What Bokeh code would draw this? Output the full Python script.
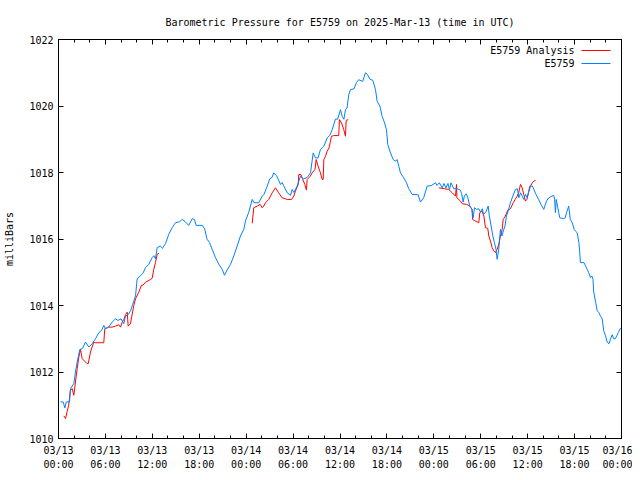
import math
from bokeh.plotting import figure
from bokeh.models import (Range1d, FixedTicker, LinearAxis, Label, BoxAnnotation)
from bokeh.embed import file_html
from bokeh.resources import INLINE

FONT = "DejaVu Sans Mono"

TITLE = "Barometric Pressure for E5759 on 2025-Mar-13 (time in UTC)"
Y_LABEL = "milliBars"
SERIES_NAMES = ["E5759 Analysis", "E5759"]
SERIES_COLORS = ["#ff0000", "#0080ff"]

# hours since 2025-03-13 00:00 UTC
obs_hours = [
    0.26, 0.6, 0.81, 1.0, 1.41, 1.53, 1.96, 2.17, 2.39, 2.73, 3.05, 3.45, 3.88, 4.3, 4.73,
    5.16, 5.5, 5.8, 6.0, 6.4, 6.86, 7.29, 7.6, 8.0, 8.35, 8.57, 8.9, 9.21, 9.5, 9.85,
    10.06, 10.5, 10.8, 11.13, 11.55, 11.98, 12.2, 12.4, 12.62, 13.0, 13.3, 13.68, 14.1, 14.54, 14.96,
    15.5, 15.82, 16.2, 16.66, 17.1, 17.4, 17.6, 18.4, 18.7, 19.0, 19.3, 19.65, 20.08, 20.5, 20.93,
    21.23, 21.57, 22.0, 22.42, 22.85, 23.27, 23.7, 23.91, 24.34, 24.77, 25.0, 25.61, 26.05, 26.3, 26.69,
    27.02, 27.3, 27.53, 27.9, 28.39, 28.6, 28.8, 29.25, 29.67, 29.88, 30.1, 30.52, 30.95, 31.3, 31.8,
    32.23, 32.57, 32.86, 33.2, 33.5, 33.93, 34.36, 34.7, 35.0, 35.42, 35.7, 36.06, 36.28, 36.5, 36.7,
    36.9, 37.12, 37.34, 37.8, 38.11, 38.4, 38.9, 39.26, 39.5, 39.81, 40.2, 40.54, 40.75, 41.1, 41.39,
    41.7, 41.94, 42.11, 42.46, 42.8, 43.1, 43.3, 43.52, 43.73, 44.16, 44.5, 44.8, 45.23, 46.0, 46.29,
    46.7, 47.15, 47.7, 48.21, 48.4, 48.7, 49.07, 49.3, 49.55, 49.8, 50.0, 50.2, 50.55, 51.0, 51.4,
    51.55, 51.75, 51.9, 52.15, 52.35, 52.6, 52.85, 53.03, 53.2, 53.5, 53.75, 53.96, 54.2, 54.35, 54.65,
    54.95, 55.1, 55.33, 55.55, 55.75, 55.95, 56.1, 56.3, 56.52, 56.7, 56.95, 57.1, 57.29, 57.5, 57.8,
    58.1, 58.44, 58.7, 58.86, 59.1, 59.3, 59.5, 59.72, 59.95, 60.27, 60.6, 60.8, 61.0, 61.4, 61.7,
    62.06, 62.4, 62.7, 63.1, 63.34, 63.45, 63.55, 63.65, 63.85, 64.1, 64.6, 64.8, 65.0, 65.25, 65.45,
    65.69, 65.95, 66.1, 66.33, 66.55, 66.65, 66.75, 67.2, 67.4, 67.6, 67.8, 68.03, 68.2, 68.35, 68.45,
    68.7, 68.89, 69.1, 69.3, 69.53, 69.73, 69.95, 70.17, 70.4, 70.6, 70.81, 71.0, 71.2, 71.4, 71.6,
    71.87,
]
obs_mb = [
    1011.10, 1011.10, 1010.92, 1011.10, 1011.10, 1011.50, 1011.65, 1012.00, 1012.30, 1012.68, 1012.70, 1012.90, 1012.75, 1012.85, 1013.00,
    1013.18, 1013.25, 1013.40, 1013.30, 1013.35, 1013.50, 1013.60, 1013.55, 1013.60, 1013.45, 1013.68, 1013.72, 1013.84, 1014.04, 1014.29,
    1014.80, 1014.90, 1014.97, 1015.14, 1015.24, 1015.44, 1015.50, 1015.40, 1015.74, 1015.79, 1015.72, 1015.86, 1016.14, 1016.34, 1016.49,
    1016.52, 1016.59, 1016.52, 1016.41, 1016.61, 1016.58, 1016.41, 1016.41, 1016.30, 1015.99, 1015.90, 1015.69, 1015.44, 1015.24, 1015.09,
    1014.91, 1015.07, 1015.24, 1015.49, 1015.79, 1016.09, 1016.29, 1016.54, 1016.81, 1017.19, 1017.09, 1017.09, 1017.29, 1017.35, 1017.59,
    1017.81, 1017.85, 1017.99, 1017.90, 1017.64, 1017.70, 1017.60, 1017.39, 1017.31, 1017.49, 1017.40, 1017.59, 1017.89, 1017.80, 1017.85,
    1017.99, 1018.59, 1018.44, 1018.44, 1018.69, 1018.79, 1019.04, 1019.12, 1019.29, 1019.61, 1019.60, 1019.89, 1019.69, 1019.60, 1019.89,
    1019.94, 1020.34, 1020.49, 1020.52, 1020.71, 1020.79, 1020.74, 1021.00, 1020.95, 1020.81, 1020.77, 1020.49, 1020.14, 1020.00, 1019.69,
    1019.49, 1019.29, 1018.84, 1018.59, 1018.39, 1018.34, 1018.39, 1018.19, 1017.99, 1017.84, 1017.69, 1017.51, 1017.34, 1017.33, 1017.11,
    1017.24, 1017.59, 1017.61, 1017.69, 1017.61, 1017.69, 1017.54, 1017.67, 1017.54, 1017.67, 1017.49, 1017.69, 1017.51, 1017.51, 1017.47,
    1017.37, 1017.11, 1017.29, 1017.36, 1017.24, 1016.99, 1016.89, 1016.64, 1016.94, 1016.89, 1016.91, 1016.81, 1016.91, 1016.74, 1016.81,
    1016.99, 1016.69, 1016.39, 1016.09, 1015.89, 1015.69, 1015.39, 1015.69, 1016.29, 1016.09, 1016.29, 1016.39, 1016.69, 1016.84, 1017.09,
    1017.29, 1017.49, 1017.51, 1017.24, 1017.39, 1017.29, 1017.19, 1017.34, 1017.24, 1017.59, 1017.59, 1017.49, 1017.37, 1017.19, 1017.04,
    1016.89, 1017.14, 1017.24, 1017.29, 1017.31, 1017.19, 1016.79, 1017.19, 1016.94, 1016.64, 1016.61, 1016.64, 1016.81, 1016.99, 1016.59,
    1016.49, 1016.29, 1016.24, 1016.19, 1015.89, 1015.64, 1015.29, 1015.29, 1015.19, 1015.09, 1014.99, 1014.84, 1014.89, 1014.79, 1014.40,
    1014.09, 1013.84, 1013.79, 1013.69, 1013.60, 1013.24, 1013.09, 1012.90, 1012.85, 1013.00, 1013.12, 1013.00, 1013.00, 1013.09, 1013.19,
    1013.32,
]

nan = float("nan")
ana_hours = [
    0.68, 0.9, 1.11, 1.3, 1.53, 1.75, 1.96, 2.17, 2.39, 2.6, 2.81, 3.03, 3.67, 3.8, 4.09,
    4.51, 4.7, 5.79, 5.92, 6.4, 6.87, 7.3, 7.7, 7.93, 8.15, 8.35, 8.57, 8.79, 8.91, 9.2,
    9.35, 9.63, 9.85, 10.27, 10.61, 10.8, 11.13, 11.75, 11.98, 12.19, 12.4, 12.62, 12.83, nan,
    24.77, 24.97, 25.4, 25.8, 26.05, 26.25, 26.47, 26.89, 27.33, 27.75, 28.15, 28.6, 29.25, 29.8, 30.09,
    30.3, 30.65, 30.73, 31.0, 31.24, 31.5, 31.71, 31.8, 32.2, 32.44, 32.8, 32.95, 33.2, 33.5, 33.72,
    33.85, 33.93, 34.15, 34.36, 34.6, 34.78, 34.91, 35.2, 35.84, 35.93, 36.2, 36.48, 36.7, 36.79, 37.05, nan,
    48.63, 49.4, 49.91, 50.35, 50.77, 50.9, 50.95, 51.41, 51.63, 52.2, 52.6, 52.9, 52.95, 53.3, 53.75,
    53.88, 54.15, 54.4, 54.6, 54.9, 55.03, 55.24, 55.46, 55.67, 55.88, 56.1, 56.3, 56.52, 56.74, 56.87,
    57.15, 57.46, 57.8, 58.15, 58.4, 58.66, 58.85, 59.08, 59.3, 59.5, 59.72, 59.9, 60.1, 60.36, 60.6,
    60.78, 61.0,
]
ana_mb = [
    1010.68, 1010.60, 1010.82, 1011.00, 1011.45, 1011.50, 1011.30, 1011.70, 1012.10, 1012.45, 1012.68, 1012.40, 1012.25, 1012.25, 1012.60,
    1012.90, 1012.88, 1012.88, 1013.30, 1013.35, 1013.35, 1013.38, 1013.42, 1013.35, 1013.50, 1013.58, 1013.72, 1013.80, 1013.38, 1013.45,
    1013.65, 1014.00, 1014.20, 1014.40, 1014.61, 1014.61, 1014.70, 1014.78, 1014.82, 1015.09, 1015.29, 1015.54, 1015.57, nan,
    1016.47, 1016.94, 1016.99, 1017.04, 1016.94, 1016.99, 1017.09, 1017.19, 1017.39, 1017.54, 1017.39, 1017.24, 1017.19, 1017.19, 1017.29,
    1017.44, 1017.64, 1017.94, 1017.94, 1017.79, 1017.64, 1017.47, 1017.79, 1017.89, 1017.99, 1018.09, 1018.39, 1018.19, 1017.99, 1017.79,
    1017.79, 1018.39, 1018.49, 1018.64, 1018.74, 1018.94, 1019.09, 1019.11, 1019.11, 1019.59, 1019.49, 1019.29, 1019.09, 1019.57, 1019.59, nan,
    1017.54, 1017.51, 1017.49, 1017.39, 1017.29, 1017.64, 1017.24, 1017.14, 1017.06, 1017.04, 1016.99, 1016.89, 1016.59, 1016.54, 1016.49,
    1016.79, 1016.84, 1016.69, 1016.34, 1016.32, 1016.09, 1015.94, 1015.74, 1015.64, 1015.59, 1015.69, 1015.84, 1016.09, 1016.29, 1016.59,
    1016.69, 1016.87, 1016.91, 1017.09, 1017.19, 1017.29, 1017.39, 1017.64, 1017.54, 1017.34, 1017.14, 1017.19, 1017.39, 1017.59, 1017.69,
    1017.74, 1017.76,
]

x_ticks = [0, 6, 12, 18, 24, 30, 36, 42, 48, 54, 60, 66, 72]
x_tick_labels = ["03/13\n00:00", "03/13\n06:00", "03/13\n12:00", "03/13\n18:00",
                 "03/14\n00:00", "03/14\n06:00", "03/14\n12:00", "03/14\n18:00",
                 "03/15\n00:00", "03/15\n06:00", "03/15\n12:00", "03/15\n18:00",
                 "03/16\n00:00"]
x_minor = list(range(0, 73, 2))
y_ticks = [1010, 1012, 1014, 1016, 1018, 1020, 1022]

p = figure(width=632, height=472, output_backend="svg", toolbar_location=None,
           x_range=Range1d(0, 72), y_range=Range1d(1010, 1022),
           min_border_left=58, min_border_right=11, min_border_top=39, min_border_bottom=32)
p.background_fill_color = "white"
p.border_fill_color = "white"
p.outline_line_color = "black"
p.outline_line_alpha = 1
p.outline_line_width = 1
p.xgrid.visible = False
p.ygrid.visible = False

p.title.text = TITLE
p.title.align = "center"
p.title.text_font = FONT
p.title.text_font_size = "10px"
p.title.text_font_style = "normal"
p.title.text_color = "black"
p.title.standoff = 24

def style_axis(ax):
    ax.axis_line_color = "black"
    ax.major_tick_in = 5
    ax.major_tick_out = 0
    ax.minor_tick_in = 3
    ax.minor_tick_out = 0
    ax.major_tick_line_color = "black"
    ax.minor_tick_line_color = "black"
    ax.major_label_text_font = FONT
    ax.major_label_text_font_size = "10px"
    ax.major_label_text_color = "black"
    ax.axis_label_text_font = FONT
    ax.axis_label_text_font_size = "10px"
    ax.axis_label_text_font_style = "normal"
    ax.axis_label_text_color = "black"

xa = p.xaxis[0]
xa.ticker = FixedTicker(ticks=x_ticks, minor_ticks=x_minor)
xa.major_label_overrides = {t: lab for t, lab in zip(x_ticks, x_tick_labels)}
style_axis(xa)
xa.major_label_standoff = 6
xa.major_label_text_line_height = 1.3

ya = p.yaxis[0]
ya.ticker = FixedTicker(ticks=y_ticks, minor_ticks=[])
style_axis(ya)
ya.major_label_standoff = 5
ya.axis_label = Y_LABEL
ya.axis_label_standoff = 11

top = LinearAxis(ticker=FixedTicker(ticks=x_ticks, minor_ticks=x_minor))
style_axis(top)
top.major_label_overrides = {t: "" for t in x_ticks}
top.major_label_standoff = 0
p.add_layout(top, "above")
right = LinearAxis(ticker=FixedTicker(ticks=y_ticks, minor_ticks=[]))
style_axis(right)
right.major_label_overrides = {t: "" for t in y_ticks}
right.major_label_standoff = 0
p.add_layout(right, "right")

p.line(ana_hours, ana_mb, line_color=SERIES_COLORS[0], line_width=1)
p.line(obs_hours, obs_mb, line_color=SERIES_COLORS[1], line_width=1)

# gnuplot-style key: text right-aligned, sample line to its right (frame-relative px)
key_rows = [388, 375]
for name, color, ky in zip(SERIES_NAMES, SERIES_COLORS, key_rows):
    p.add_layout(Label(x=516, y=ky, x_units="screen", y_units="screen", text=name,
                       text_align="right", text_baseline="middle",
                       text_font=FONT, text_font_size="10px", text_color="black"))
    p.add_layout(BoxAnnotation(left=523, right=552, bottom=ky - 0.5, top=ky + 0.5,
                               left_units="screen", right_units="screen",
                               bottom_units="screen", top_units="screen",
                               fill_color=color, fill_alpha=1, line_color=None))

open("out.html", "w").write(file_html(p, INLINE))
